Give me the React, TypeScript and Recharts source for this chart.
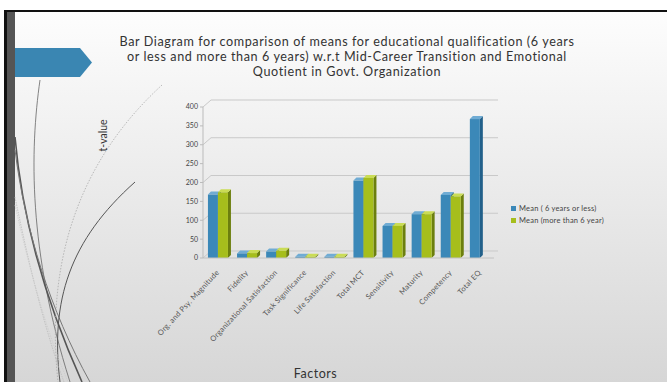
import { BarChart, Bar, XAxis, YAxis, CartesianGrid, Legend, Label } from "recharts";

const factors = [
  "Org. and Psy. Magnitude",
  "Fidelity",
  "Organizational Satisfaction",
  "Task Significance",
  "Life Satisfaction",
  "Total MCT",
  "Sensitivity",
  "Maturity",
  "Competency",
  "Total EQ",
];
const meanSixOrLess = [168, 12, 17, 3, 3, 205, 85, 116, 167, 368];
const meanMoreThanSix = [174, 13, 19, 3, 3, 212, 85, 116, 163, null];
const yTicks = [0, 50, 100, 150, 200, 250, 300, 350, 400];

const data = factors.map((f, i) => ({
  factor: f,
  less: meanSixOrLess[i],
  more: meanMoreThanSix[i],
}));

const FONT = "Lato, 'DejaVu Sans', sans-serif";

const Bar3D = (props: any) => {
  const { x, y, width, height, fill, side, top } = props;
  if (height == null || height <= 0 || width <= 0) return null;
  const d = 3;
  return (
    <g>
      <path d={`M${x + width},${y} l${d},${-d} v${height} l${-d},${d} Z`} fill={side} />
      <path d={`M${x},${y} l${d},${-d} h${width} l${-d},${d} Z`} fill={top} />
      <rect x={x} y={y} width={width} height={height} fill={fill} />
    </g>
  );
};

const XTick = ({ x, y, payload }: any) => (
  <text
    x={x + 2}
    y={y + 7}
    transform={`rotate(-47, ${x + 2}, ${y + 7})`}
    textAnchor="end"
    fontSize={7.5}
    letterSpacing={0.25}
    fill="#555"
    fontFamily={FONT}
  >
    {payload.value}
  </text>
);

const gridLine = (p: any) => (
  <path
    key={`g-${p.index}`}
    d={`M${p.x1},${p.y1} L${p.x1 + 8},${p.y1 - 7} L${p.x2 + 4},${p.y1 - 7}`}
    stroke="#c9c9c9"
    strokeWidth={1}
    fill="none"
  />
);

const LegendBox = ({ payload }: any) => (
  <div style={{ fontFamily: FONT, fontSize: 7.5, color: "#444", letterSpacing: 0.2 }}>
    {(payload || []).map((item: any) => (
      <div key={item.value} style={{ display: "flex", alignItems: "center", height: 12 }}>
        <span style={{ width: 5, height: 5, background: item.color, marginRight: 3 }} />
        {item.value}
      </div>
    ))}
  </div>
);

export default function App() {
  return (
    <div
      style={{
        position: "absolute",
        left: 0,
        top: 0,
        width: 667,
        height: 382,
        overflow: "hidden",
        background: "#fff",
        fontFamily: FONT,
      }}
    >
      {/* slide */}
      <div
        style={{
          position: "absolute",
          left: 4,
          top: 10,
          width: 663,
          height: 372,
          background: "linear-gradient(#fdfdfd, #d6d6d6)",
          borderTop: "2px solid #111",
          borderLeft: "3px solid #111",
        }}
      />
      <div style={{ position: "absolute", left: 7, top: 12, width: 8, height: 370, background: "#555" }} />
      <svg width={667} height={382} style={{ position: "absolute", left: 0, top: 0 }}>
        <path d="M15,48 H80 L92,62.5 L80,77 H15 Z" fill="#3a86b2" />
        <path d="M40,80 C30,150 28,250 70,382" stroke="#666" strokeWidth={0.8} fill="none" />
        <path d="M15,137 C22,220 45,300 82,382" stroke="#555" strokeWidth={1.6} fill="none" />
        <path d="M15,150 C25,230 50,310 90,382" stroke="#777" strokeWidth={1} fill="none" />
        <path d="M162,85 C80,160 45,260 58,382" stroke="#aaa" strokeWidth={0.8} strokeDasharray="1.5 1.5" fill="none" />
        <path d="M135,182 C70,240 50,300 60,382" stroke="#555" strokeWidth={1} fill="none" />
        <path d="M15,197 C30,270 45,330 64,382" stroke="#bbb" strokeWidth={0.8} strokeDasharray="1.5 1" fill="none" />
        <path d="M15,205 C32,280 48,335 68,382" stroke="#ccc" strokeWidth={0.8} strokeDasharray="1.5 1" fill="none" />
      </svg>
      <div
        style={{
          position: "absolute",
          left: 60,
          top: 35,
          width: 574,
          textAlign: "center",
          fontSize: 12.6,
          letterSpacing: 0.6,
          lineHeight: "14.8px",
          color: "#333",
        }}
      >
        Bar Diagram for comparison of means for educational qualification (6 years
        <br />
        or less and more than 6 years) w.r.t Mid-Career Transition and Emotional
        <br />
        Quotient in Govt. Organization
      </div>
      <div style={{ position: "absolute", left: 0, top: 0 }}>
        <BarChart
          width={667}
          height={382}
          data={data}
          margin={{ top: 107, right: 173, bottom: 4, left: 173 }}
          barCategoryGap="17%"
          barGap={0}
        >
          <CartesianGrid vertical={false} horizontal={gridLine} />
          <XAxis
            dataKey="factor"
            height={120}
            interval={0}
            tick={<XTick />}
            tickLine={false}
            axisLine={{ stroke: "#c2c2c2" }}
          >
            <Label
              value="Factors"
              position="insideBottom"
              offset={0}
              dx={-33}
              style={{ fontSize: 12.5, letterSpacing: 0.5, fill: "#333", fontFamily: FONT }}
            />
          </XAxis>
          <YAxis
            width={30}
            domain={[0, 400]}
            ticks={yTicks}
            tick={{ fontSize: 7, fill: "#444", fontFamily: FONT }}
            tickSize={3}
            tickLine={{ stroke: "#bbb" }}
            axisLine={{ stroke: "#bbb" }}
          >
            <Label
              value="t-value"
              angle={-90}
              position="insideLeft"
              dx={-75}
              dy={-47}
              style={{ fontSize: 10.5, fill: "#333", fontFamily: FONT, textAnchor: "middle" }}
            />
          </YAxis>
          <Legend
            layout="vertical"
            align="center"
            verticalAlign="middle"
            wrapperStyle={{ left: 511, top: 202, width: 150 }}
            content={<LegendBox />}
          />
          <Bar
            dataKey="less"
            name="Mean ( 6 years or less)"
            fill="#3b88b8"
            isAnimationActive={false}
            shape={(p: any) => <Bar3D {...p} fill="#3b88b8" side="#22608a" top="#70acd4" />}
          />
          <Bar
            dataKey="more"
            name="Mean (more than 6 year)"
            fill="#a6be1c"
            isAnimationActive={false}
            shape={(p: any) => <Bar3D {...p} fill="#a6be1c" side="#6c7f0e" top="#cadc55" />}
          />
        </BarChart>
      </div>
    </div>
  );
}
